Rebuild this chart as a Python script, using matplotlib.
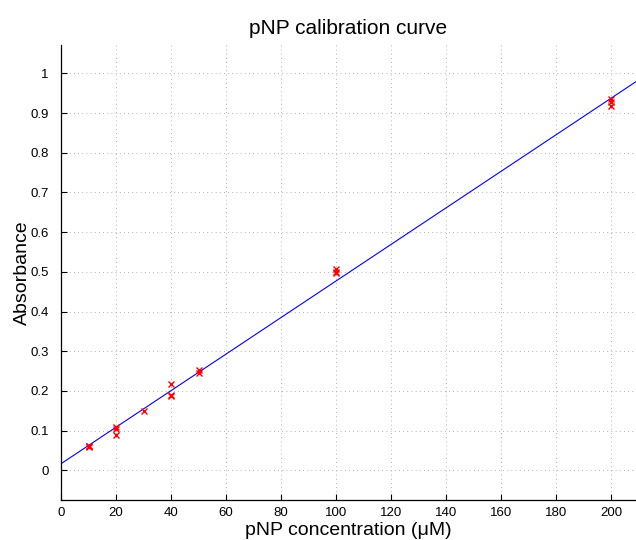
import numpy as np
import matplotlib
matplotlib.use("Agg")
import matplotlib.pyplot as plt

# concentrations (uM) and measured absorbance
conc = [10, 10, 10, 20, 20, 20, 30, 40, 40, 40, 50, 50, 100, 100, 100, 200, 200, 200]
absorb = [0.060, 0.062, 0.058, 0.110, 0.105, 0.088, 0.149, 0.218, 0.189, 0.186,
          0.253, 0.246, 0.508, 0.500, 0.496, 0.936, 0.927, 0.918]

xticks = [0, 20, 40, 60, 80, 100, 120, 140, 160, 180, 200]
yticks = [0, 0.1, 0.2, 0.3, 0.4, 0.5, 0.6, 0.7, 0.8, 0.9, 1]

plt.rcParams['font.family'] = ['Liberation Sans', 'DejaVu Sans']

fig = plt.figure(figsize=(6.36, 5.4), dpi=100)
ax = fig.add_axes([0.096, 0.074, 0.904, 0.843])

slope, icpt = np.polyfit(conc, absorb, 1)
xl = np.array([0, 209])
ax.plot(xl, slope * xl + icpt, color='blue', lw=0.8, zorder=2)
ax.plot(conc, absorb, 'x', color='red', ms=4.5, mew=1.0, zorder=3)

ax.set_xlim(0, 209)
ax.set_ylim(-0.075, 1.072)
ax.set_xticks(xticks)
ax.set_yticks(yticks)
ax.set_yticklabels([f"{t:g}" for t in yticks])
ax.tick_params(direction='in', length=4, width=0.8, labelsize=9.5)
ax.tick_params(axis='y', pad=9)
ax.tick_params(axis='x', pad=5)
ax.grid(True, linestyle=(0, (1, 4)), color='#999999', lw=0.6)
for s in ['top', 'right']:
    ax.spines[s].set_visible(False)
for s in ['left', 'bottom']:
    ax.spines[s].set_linewidth(0.9)

ax.set_title('pNP calibration curve', fontsize=15, pad=8)
ax.set_xlabel('pNP concentration (\u03bcM)', fontsize=14, labelpad=2)
ax.set_ylabel('Absorbance', fontsize=14, labelpad=-1)

fig.savefig('out.png', dpi=100)
